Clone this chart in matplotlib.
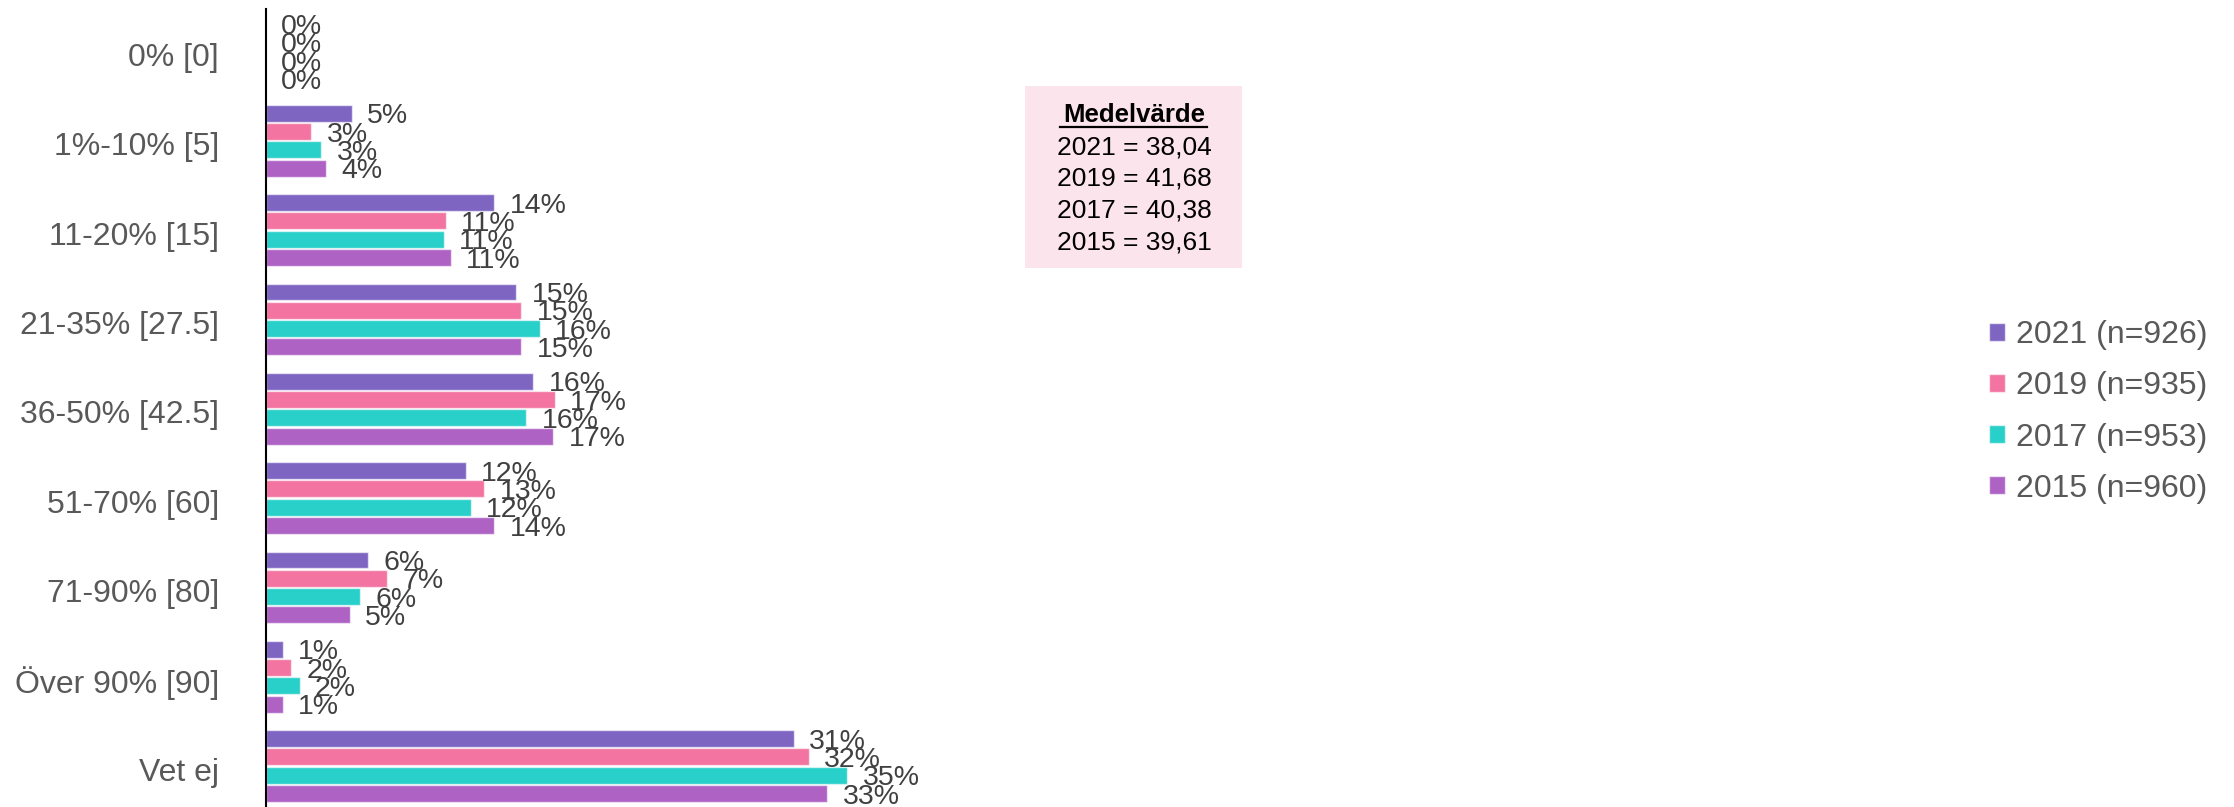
import matplotlib
matplotlib.use("Agg")
import matplotlib.pyplot as plt
import matplotlib.transforms as mtransforms
from matplotlib.patches import Rectangle
from matplotlib.lines import Line2D
import numpy as np

plt.rcParams['font.family'] = ['Liberation Sans', 'DejaVu Sans']

categories = ["0% [0]", "1%-10% [5]", "11-20% [15]", "21-35% [27.5]", "36-50% [42.5]",
              "51-70% [60]", "71-90% [80]", "Över 90% [90]", "Vet ej"]
series_names = ["2021 (n=926)", "2019 (n=935)", "2017 (n=953)", "2015 (n=960)"]
values_2021 = [0.0, 5.1, 13.6, 14.9, 15.9, 11.9, 6.1, 1.0, 31.4]
values_2019 = [0.0, 2.7, 10.7, 15.2, 17.2, 13.0, 7.2, 1.5, 32.3]
values_2017 = [0.0, 3.3, 10.6, 16.3, 15.5, 12.2, 5.6, 2.0, 34.6]
values_2015 = [0.0, 3.6, 11.0, 15.2, 17.1, 13.6, 5.0, 1.0, 33.4]
series_values = [values_2021, values_2019, values_2017, values_2015]
colors = ["#7E65C2", "#F373A1", "#29CFC9", "#AD62C4"]
box_title = "Medelvärde"
box_lines = ["2021 = 38,04", "2019 = 41,68", "2017 = 40,38", "2015 = 39,61"]

W, H = 2234, 807
fig = plt.figure(figsize=(W / 100, H / 100), dpi=100)
ax = fig.add_axes([266 / W, 0, 1680 / W, 1 - 9 / H])

y = np.arange(len(categories))
pitch = 0.205
bh = 0.189
handles = []
for i, (vals, col, name) in enumerate(zip(series_values, colors, series_names)):
    pos = y + (i - 1.5) * pitch
    bars = ax.barh(pos, vals, height=bh, color=col, edgecolor=(1, 1, 1, 0.6),
                   linewidth=1.0, label=name)
    handles.append(bars)
    for p, v in zip(pos, vals):
        ax.annotate(f"{round(v):.0f}%", xy=(v, p), xytext=(11, 0),
                    textcoords="offset points", va="center_baseline", ha="left",
                    fontsize=20.5, color="#404040")

ax.set_xlim(0, 100)
ax.set_ylim(8.458, -0.475)
ax.set_yticks(y)
ax.set_yticklabels(categories, fontsize=23, color="#595959")
ax.tick_params(axis="y", length=0, pad=34)
ax.set_xticks([])
shift = mtransforms.ScaledTranslation(0, -3 / 100, fig.dpi_scale_trans)
for lab in ax.get_yticklabels():
    lab.set_transform(lab.get_transform() + shift)
for s in ["top", "right", "bottom"]:
    ax.spines[s].set_visible(False)
ax.spines["left"].set_color("black")
ax.spines["left"].set_linewidth(1.5)

leg = fig.legend(handles=handles, labels=series_names, loc="center left",
                 bbox_to_anchor=(1989 / W, 1 - 412 / H), frameon=False,
                 fontsize=23, handlelength=0.5, handleheight=0.5,
                 handletextpad=0.35, labelspacing=0.66, borderaxespad=0,
                 borderpad=0)
for t in leg.get_texts():
    t.set_color("#595959")

# Mean value box
bx0, bx1, by0, by1 = 1025, 1242, 86, 268
fig.patches.append(Rectangle((bx0 / W, 1 - by1 / H), (bx1 - bx0) / W, (by1 - by0) / H,
                             transform=fig.transFigure, facecolor="#FCE4EC",
                             edgecolor="none", zorder=0))
cx = 1134 / W
fig.text(cx, 1 - 115 / H, box_title, ha="center", va="center", fontsize=18.5,
         fontweight="bold", color="black")
fig.lines.append(Line2D([1060 / W, 1207 / W], [1 - 127 / H, 1 - 127 / H],
                        transform=fig.transFigure, color="black", linewidth=1.6))
for k, line in enumerate(box_lines):
    fig.text(cx, 1 - (147 + 31.7 * k) / H, line, ha="center", va="center",
             fontsize=19, color="black")

fig.savefig("out.png", dpi=100)
